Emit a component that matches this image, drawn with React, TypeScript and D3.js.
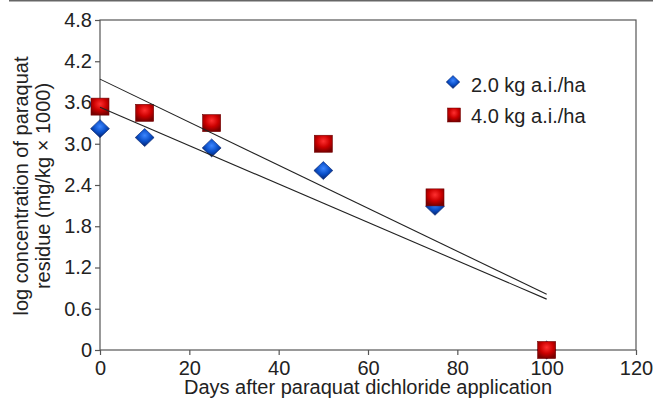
import React, { useEffect, useRef } from "react";
import * as d3 from "d3";

const days = [0, 10, 25, 50, 75, 100];
const rate2 = [3.22, 3.09, 2.94, 2.61, 2.09, 0.0];
const rate4 = [3.54, 3.45, 3.3, 3.0, 2.22, 0.0];
// fitted trend lines, value at day 0 and day 100
const trendDays = [0, 100];
const trend2 = [3.53, 0.74];
const trend4 = [3.94, 0.81];
const xTicks = [0, 20, 40, 60, 80, 100, 120];
const yTicks = [0, 0.6, 1.2, 1.8, 2.4, 3.0, 3.6, 4.2, 4.8];
const legendLabels = ["2.0 kg a.i./ha", "4.0 kg a.i./ha"];

const App = () => {
  const ref = useRef<SVGSVGElement>(null);

  useEffect(() => {
    const width = 653;
    const height = 399;
    const marginLeft = 100;
    const marginRight = 17;
    const marginTop = 20;
    const marginBottom = 49;
    const font = "'Liberation Sans', Arial, sans-serif";
    const fontSize = 20;
    const axisColor = "#555";

    const svg = d3.select(ref.current);
    svg.selectAll("*").remove();

    const x = d3.scaleLinear().domain([0, 120]).range([marginLeft, width - marginRight]);
    const y = d3.scaleLinear().domain([0, 4.8]).range([height - marginBottom, marginTop]);

    const defs = svg.append("defs");
    const rg = defs.append("radialGradient").attr("id", "redG").attr("cx", "50%").attr("cy", "35%").attr("r", "65%");
    rg.append("stop").attr("offset", "0%").attr("stop-color", "#ff3030");
    rg.append("stop").attr("offset", "55%").attr("stop-color", "#cc0000");
    rg.append("stop").attr("offset", "100%").attr("stop-color", "#7a0000");
    const bg = defs.append("radialGradient").attr("id", "blueG").attr("cx", "50%").attr("cy", "38%").attr("r", "60%");
    bg.append("stop").attr("offset", "0%").attr("stop-color", "#3d86ff");
    bg.append("stop").attr("offset", "55%").attr("stop-color", "#0a4fc8");
    bg.append("stop").attr("offset", "100%").attr("stop-color", "#06246e");

    // page rule at top
    svg.append("line").attr("x1", 9).attr("x2", width).attr("y1", 0.75).attr("y2", 0.75)
      .attr("stroke", "#666").attr("stroke-width", 1.5);

    // frame
    svg.append("rect")
      .attr("x", x(0)).attr("y", y(4.8))
      .attr("width", x(120) - x(0)).attr("height", y(0) - y(4.8))
      .attr("fill", "none").attr("stroke", axisColor).attr("stroke-width", 1.2);

    // axes
    const xAxis = svg.append("g")
      .attr("transform", `translate(0,${y(0)})`)
      .call(d3.axisBottom(x).tickValues(xTicks).tickSize(5).tickPadding(3).tickFormat(d3.format("d")));
    xAxis.select(".domain").remove();
    xAxis.selectAll("line").attr("stroke", axisColor).attr("stroke-width", 1.2);
    xAxis.selectAll("text").attr("font-family", font).attr("font-size", fontSize).attr("fill", "#222")
      .attr("dy", null).attr("y", 25);

    const yAxis = svg.append("g")
      .attr("transform", `translate(${x(0)},0)`)
      .call(d3.axisLeft(y).tickValues(yTicks).tickSize(5).tickPadding(3)
        .tickFormat((d) => (d === 0 ? "0" : d3.format(".1f")(d as number))));
    yAxis.select(".domain").remove();
    yAxis.selectAll("line").attr("stroke", axisColor).attr("stroke-width", 1.2);
    yAxis.selectAll("text").attr("font-family", font).attr("font-size", fontSize).attr("fill", "#222");

    const diamond = (s: number) => `M0,${-s}L${s * 1.05},0L0,${s}L${-s * 1.05},0Z`;

    // 2.0 series
    svg.append("g").selectAll("path").data(rate2).join("path")
      .attr("transform", (d, i) => `translate(${x(days[i])},${y(d)})`)
      .attr("d", diamond(9))
      .attr("fill", "url(#blueG)")
      .attr("stroke", "#06246e").attr("stroke-width", 0.6);

    // 4.0 series
    svg.append("g").selectAll("rect").data(rate4).join("rect")
      .attr("x", (d, i) => x(days[i]) - 9)
      .attr("y", (d) => y(d) - 8.5)
      .attr("width", 18).attr("height", 17)
      .attr("fill", "url(#redG)")
      .attr("stroke", "#700000").attr("stroke-width", 0.6);

    // trend lines
    const line = d3.line<number>().x((d, i) => x(trendDays[i])).y((d) => y(d));
    [trend2, trend4].forEach((t) => {
      svg.append("path").attr("d", line(t)).attr("fill", "none").attr("stroke", "#222").attr("stroke-width", 1.1);
    });

    // legend
    const lg = svg.append("g");
    lg.append("path").attr("transform", "translate(453,82)").attr("d", diamond(6.5))
      .attr("fill", "url(#blueG)").attr("stroke", "#06246e").attr("stroke-width", 0.5);
    lg.append("rect").attr("x", 447.5).attr("y", 108).attr("width", 13).attr("height", 14)
      .attr("fill", "url(#redG)").attr("stroke", "#700000").attr("stroke-width", 0.5);
    lg.selectAll("text").data(legendLabels).join("text")
      .attr("x", 471).attr("y", (d, i) => 92 + i * 31)
      .attr("font-family", font).attr("font-size", fontSize).attr("fill", "#222")
      .text((d) => d);

    // axis titles
    svg.append("text")
      .attr("x", (x(0) + x(120)) / 2).attr("y", 394)
      .attr("text-anchor", "middle")
      .attr("font-family", font).attr("font-size", fontSize).attr("fill", "#222")
      .text("Days after paraquat dichloride application");

    const yt = svg.append("text")
      .attr("transform", `translate(0,186) rotate(-90)`)
      .attr("text-anchor", "middle")
      .attr("font-family", font).attr("font-size", fontSize).attr("fill", "#222");
    yt.append("tspan").attr("x", 0).attr("y", 28).text("log concentration of paraquat");
    yt.append("tspan").attr("x", 0).attr("y", 50).text("residue (mg/kg × 1000)");
  }, []);

  return (
    <svg
      ref={ref}
      width={653}
      height={399}
      style={{ position: "absolute", left: 0, top: 0, background: "#fff" }}
    />
  );
};

export default App;
